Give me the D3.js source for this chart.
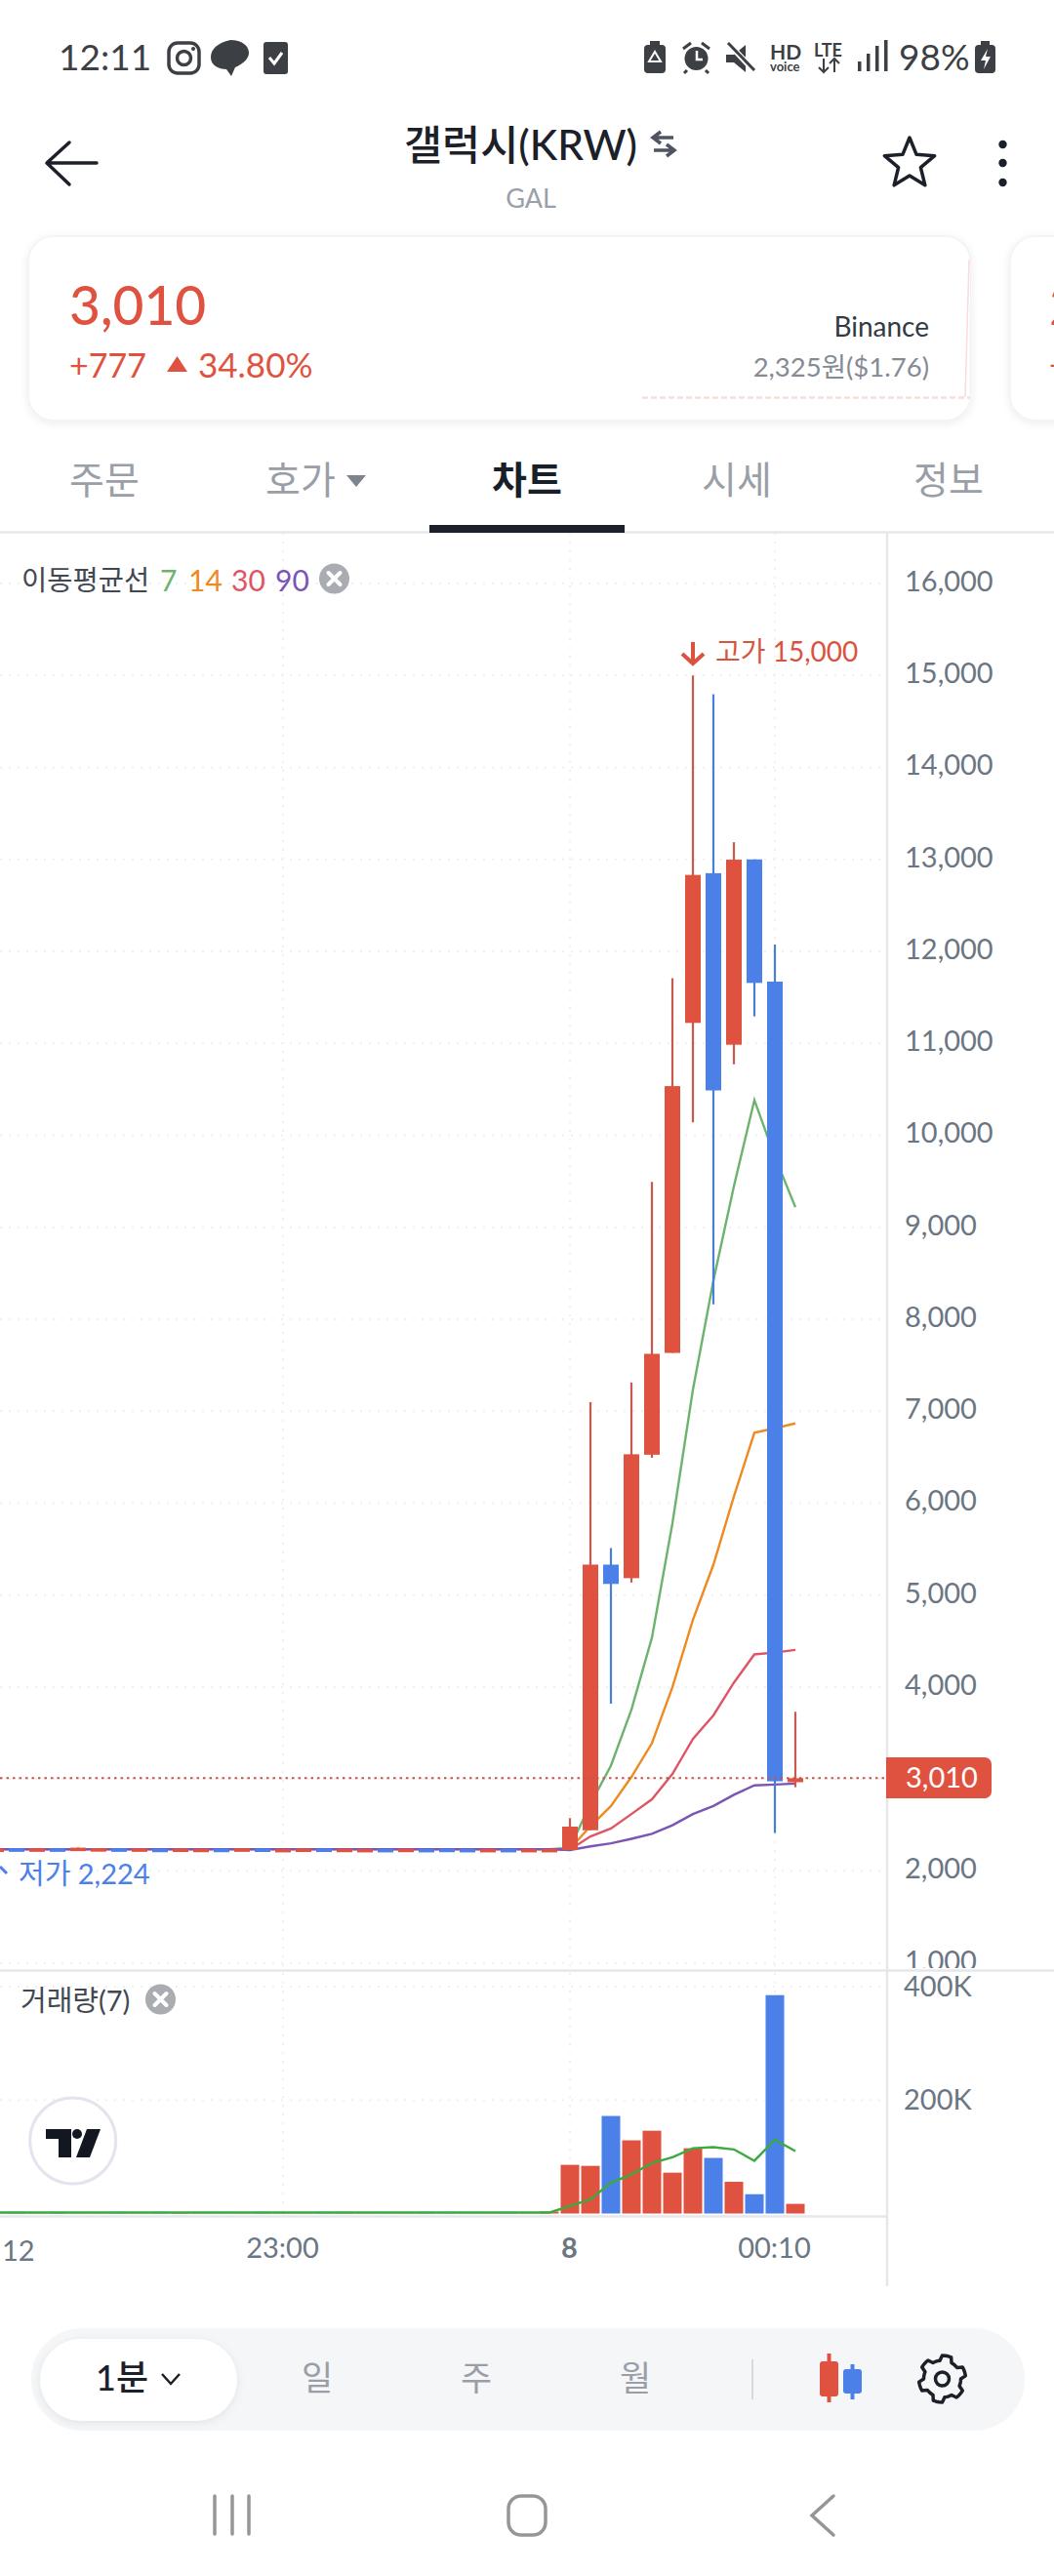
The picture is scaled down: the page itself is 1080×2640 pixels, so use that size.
<!DOCTYPE html>
<html>
<head>
<meta charset="utf-8">
<script src="https://cdn.jsdelivr.net/npm/d3@7"></script>
<style>
  html, body { margin: 0; padding: 0; background: #fff; }
  svg { display: block; }
  text { font-family: Lato, "Noto Sans CJK KR", sans-serif; }
</style>
</head>
<body>
<div id="chart"></div>
<script>
// Candles, oldest first. Index 0 is the bar on the "8" gridline, the flat part before it runs off the left edge.
const firstIndex = -28;
const opens = [2236, 2246, 2234, 2246, 2244, 2234, 2246, 2232, 2242, 2240, 2236, 2242, 2236, 2244, 2232, 2236, 2244, 2234, 2232, 2240, 2234, 2240, 2242, 2240, 2232, 2240, 2234, 2236,
  2229, 2444, 5332, 5185, 6527, 7634, 11222, 12850, 10985, 13000, 11671, 2966];
const closes = [2244, 2236, 2246, 2236, 2254, 2248, 2236, 2246, 2236, 2244, 2242, 2236, 2246, 2236, 2240, 2244, 2234, 2242, 2240, 2234, 2242, 2236, 2232, 2232, 2240, 2236, 2240, 2240,
  2483, 5332, 5122, 6532, 7624, 10535, 12831, 10488, 12997, 11657, 2976, 3010];
const highs = [2248, 2248, 2248, 2248, 2256, 2250, 2248, 2248, 2244, 2246, 2244, 2244, 2248, 2246, 2242, 2246, 2246, 2244, 2242, 2242, 2244, 2242, 2244, 2242, 2242, 2242, 2242, 2242,
  2576, 7098, 5512, 7312, 9493, 11709, 15000, 14796, 13187, 13000, 12074, 3732];
const lows = [2232, 2232, 2232, 2232, 2240, 2232, 2232, 2230, 2232, 2238, 2234, 2234, 2234, 2234, 2230, 2234, 2232, 2232, 2230, 2232, 2232, 2234, 2230, 2230, 2230, 2234, 2232, 2234,
  2229, 2444, 3820, 5137, 6493, 7634, 10142, 8161, 10772, 11293, 2415, 2912];
const volumes = [500, 600, 500, 700, 500, 400, 600, 500, 600, 2500, 500, 400, 500, 600, 500, 400, 500, 600, 500, 400, 500, 600, 500, 400, 500, 600, 500, 3500,
  85800, 84000, 172000, 129000, 146000, 72000, 115000, 98000, 56000, 34000, 385000, 17000];

// Moving averages from bar 0 onward, the part before bar 0 sits on one flat value.
const flatAverage = 2238;
const ma7 = [2254, 2730, 3146, 3756, 4537, 5780, 7234, 8420, 9446, 10383, 9765, 9219];
const ma14 = [2240, 2488, 2707, 3024, 3390, 4000, 4732, 5332, 6073, 6766, 6815, 6868];
const ma30 = [2234, 2376, 2463, 2620, 2780, 3056, 3437, 3693, 4049, 4356, 4376, 4405];
const ma90 = [2229, 2268, 2302, 2351, 2405, 2498, 2620, 2707, 2829, 2932, 2941, 2951];
const volumeMa = [13000, 25000, 54000, 69000, 89000, 99000, 115000, 117000, 113000, 93000, 130000, 110000];
const flatVolumeMa = 1700;

const priceTicks = [1000, 2000, 3000, 4000, 5000, 6000, 7000, 8000, 9000, 10000, 11000, 12000, 13000, 14000, 15000, 16000];
const volumeTicks = [200000, 400000];
const timeTicks = [{ i: -14, label: "23:00" }, { i: 0, label: "8" }, { i: 10, label: "00:10" }];
const lastPrice = 3010;
const highLabel = "고가 15,000";
const lowLabel = "저가 2,224";

const averages = [
  { name: "7", values: ma7, color: "#6DB36E" },
  { name: "14", values: ma14, color: "#EE8A22" },
  { name: "30", values: ma30, color: "#E05565" },
  { name: "90", values: ma90, color: "#7A55B5" },
];
const tabs = [
  { label: "주문", x: 107, color: "#9A9FA7", weight: 400 },
  { label: "호가", x: 308, color: "#9A9FA7", weight: 400 },
  { label: "차트", x: 540, color: "#191F28", weight: 700 },
  { label: "시세", x: 755, color: "#9A9FA7", weight: 400 },
  { label: "정보", x: 972, color: "#9A9FA7", weight: 400 },
];
const periods = [{ label: "일", x: 325 }, { label: "주", x: 488 }, { label: "월", x: 651 }];

const RED = "#E05240";
const BLUE = "#4A80E8";
const GREY = "#6B7683";
const INK = "#1C2129";

const width = 1080;
const height = 2640;
const axisX = 909;

const svg = d3.select("#chart").append("svg").attr("width", width).attr("height", height);
const defs = svg.append("defs");
defs.append("clipPath").attr("id", "priceClip").append("rect")
  .attr("x", 0).attr("y", 546).attr("width", width).attr("height", 1473);
defs.append("clipPath").attr("id", "volumeClip").append("rect")
  .attr("x", 0).attr("y", 2021).attr("width", axisX).attr("height", 250);
const soft = defs.append("filter").attr("id", "soft").attr("x", "-20%").attr("y", "-30%").attr("width", "140%").attr("height", "160%");
soft.append("feDropShadow").attr("dx", 0).attr("dy", 2).attr("stdDeviation", 4).attr("flood-color", "#000").attr("flood-opacity", 0.08);

function label(parent, str, x, y, size, color, anchor = "start", weight = 400) {
  return parent.append("text").attr("x", x).attr("y", y)
    .attr("dominant-baseline", "central").attr("text-anchor", anchor)
    .attr("font-size", size).attr("font-weight", weight).attr("fill", color).text(str);
}

// Scales
const x = d3.scaleLinear().domain([firstIndex, 11]).range([584 + firstIndex * 21, 815]);
const yPrice = d3.scaleLinear().domain([1000, 16000]).range([2011.8, 598]);
const yVolume = d3.scaleLinear().domain([0, 400000]).range([2268.5, 2036]);

const candles = opens.map((o, k) => ({
  i: firstIndex + k, open: o, close: closes[k], high: highs[k], low: lows[k], volume: volumes[k],
}));
const candleColor = d => d.close >= d.open ? RED : BLUE;

// Gridlines
const grid = svg.append("g").attr("stroke", "#EFF0F2").attr("stroke-width", 2).attr("stroke-dasharray", "2 7");
grid.append("g").attr("clip-path", "url(#priceClip)").selectAll("line").data(priceTicks).join("line")
  .attr("x1", 0).attr("x2", axisX).attr("y1", d => yPrice(d)).attr("y2", d => yPrice(d));
grid.append("g").selectAll("line").data(volumeTicks).join("line")
  .attr("x1", 0).attr("x2", axisX).attr("y1", d => yVolume(d)).attr("y2", d => yVolume(d));
grid.append("g").selectAll("line").data(timeTicks).join("line")
  .attr("x1", d => x(d.i)).attr("x2", d => x(d.i)).attr("y1", 546).attr("y2", 2270);

// Moving averages go under the candles.
const flatIndexes = d3.range(firstIndex, 0);
const priceLine = d3.line().x(d => x(d.i)).y(d => yPrice(d.v));
const chartArea = svg.append("g").attr("clip-path", "url(#priceClip)");
for (const ma of averages) {
  const points = flatIndexes.map(i => ({ i, v: flatAverage })).concat(ma.values.map((v, k) => ({ i: k, v })));
  chartArea.append("path").attr("fill", "none").attr("stroke", ma.color).attr("stroke-width", 2.4)
    .attr("d", priceLine(points));
}

// Wicks and bodies
chartArea.selectAll("line.wick").data(candles).join("line").attr("class", "wick")
  .attr("x1", d => x(d.i)).attr("x2", d => x(d.i))
  .attr("y1", d => yPrice(d.high)).attr("y2", d => yPrice(d.low))
  .attr("stroke", d => d.close >= d.open ? "#C9594C" : "#4A7DDC").attr("stroke-width", 2.2);
chartArea.selectAll("rect.body").data(candles).join("rect").attr("class", "body")
  .attr("x", d => x(d.i) - 8).attr("width", 16)
  .attr("y", d => yPrice(Math.max(d.open, d.close)))
  .attr("height", d => Math.max(3.5, Math.abs(yPrice(d.open) - yPrice(d.close))))
  .attr("fill", candleColor);

// Last price line runs over the candles.
chartArea.append("line").attr("x1", 0).attr("x2", axisX)
  .attr("y1", yPrice(lastPrice)).attr("y2", yPrice(lastPrice))
  .attr("stroke", "#C9544A").attr("stroke-width", 2).attr("stroke-dasharray", "2.5 4");

// High and low labels
const highMark = svg.append("g").attr("fill", "none").attr("stroke", "#D9533F").attr("stroke-width", 4);
highMark.append("path").attr("d", `M${x(6)},658 V680 M${x(6) - 11},670 L${x(6)},680 L${x(6) + 11},670`);
label(svg, highLabel, 733, 667, 28, "#D9533F");
svg.append("path").attr("d", "M0,1913 L7,1920").attr("fill", "none").attr("stroke", BLUE).attr("stroke-width", 3);
label(svg, lowLabel, 19, 1919, 29, BLUE);

// Volume pane
const volumePane = svg.append("g").attr("clip-path", "url(#volumeClip)");
volumePane.selectAll("rect").data(candles).join("rect")
  .attr("x", d => x(d.i) - 9.5).attr("width", 19)
  .attr("y", d => yVolume(d.volume))
  .attr("height", d => yVolume(0) - yVolume(d.volume))
  .attr("fill", candleColor);
const volumeLine = d3.line().x(d => x(d.i)).y(d => yVolume(d.v));
const volumePoints = flatIndexes.map(i => ({ i, v: flatVolumeMa })).concat(volumeMa.map((v, k) => ({ i: k, v })));
volumePane.append("path").attr("fill", "none").attr("stroke", "#3BAA3F").attr("stroke-width", 2.4)
  .attr("d", volumeLine(volumePoints));

// Pane borders
const borders = svg.append("g").attr("stroke", "#E6E7EA").attr("stroke-width", 2.5);
borders.append("line").attr("x1", 0).attr("x2", width).attr("y1", 545.5).attr("y2", 545.5);
borders.append("line").attr("x1", 0).attr("x2", width).attr("y1", 2019.5).attr("y2", 2019.5);
borders.append("line").attr("x1", 0).attr("x2", axisX).attr("y1", 2271.5).attr("y2", 2271.5);
borders.append("line").attr("x1", axisX).attr("x2", axisX).attr("y1", 545).attr("y2", 2343);

// Axes
const priceAxis = svg.append("g").attr("clip-path", "url(#priceClip)")
  .attr("transform", `translate(${axisX},-2)`)
  .call(d3.axisRight(yPrice).tickValues(priceTicks).tickFormat(d3.format(",")).tickSize(0).tickPadding(18));
const volumeAxis = svg.append("g")
  .attr("transform", `translate(${axisX},0)`)
  .call(d3.axisRight(yVolume).tickValues(volumeTicks).tickFormat(d => d / 1000 + "K").tickSize(0).tickPadding(17));
const timeAxis = svg.append("g")
  .attr("transform", "translate(-1,2272)")
  .call(d3.axisBottom(x)
    .tickValues(timeTicks.map(d => d.i))
    .tickFormat(d => timeTicks.find(t => t.i === d).label)
    .tickSize(0).tickPadding(21));
for (const axis of [priceAxis, volumeAxis, timeAxis]) {
  axis.attr("font-family", null).attr("font-size", 29);
  axis.select(".domain").remove();
  axis.selectAll("text").attr("fill", GREY);
}
timeAxis.selectAll("text").filter(d => d === 0).attr("font-weight", 700);
label(svg, "12", 2, 2305, 29, GREY);

// Last price tag
svg.append("path").attr("d", "M908,1801 H1009 a7,7 0 0 1 7,7 V1836 a7,7 0 0 1 -7,7 H908 Z").attr("fill", RED);
label(svg, d3.format(",")(lastPrice), 928, 1820, 29, "#fff");

// Legends
function closeButton(cx, cy) {
  svg.append("circle").attr("cx", cx).attr("cy", cy).attr("r", 15.5).attr("fill", "#A9ACB1");
  svg.append("path").attr("d", `M${cx - 6},${cy - 6} L${cx + 6},${cy + 6} M${cx + 6},${cy - 6} L${cx - 6},${cy + 6}`)
    .attr("stroke", "#fff").attr("stroke-width", 4).attr("stroke-linecap", "round");
}
label(svg, "이동평균선", 22, 594, 28.5, "#424852");
const legendX = [164, 193, 237, 282];
averages.forEach((ma, k) => label(svg, ma.name, legendX[k], 594, 30, ma.color));
closeButton(342.5, 593);
label(svg, "거래량(7)", 21, 2049, 29, "#424852");
closeButton(164.5, 2049);

// TradingView badge
svg.append("circle").attr("cx", 74.7).attr("cy", 2194).attr("r", 44).attr("fill", "#fff").attr("stroke", "#E2E5EE").attr("stroke-width", 3);
const tv = svg.append("g").attr("fill", "#131722");
tv.append("path").attr("d", "M47,2182 H73 V2211 H60 V2192 H47 Z");
tv.append("circle").attr("cx", 79).attr("cy", 2187).attr("r", 5);
tv.append("path").attr("d", "M89,2182 H103 L92,2211 H78 Z");

// Status bar
const statusColor = "#3C3F44";
label(svg, "12:11", 60, 57, 37, statusColor);
svg.append("rect").attr("x", 173).attr("y", 44).attr("width", 31).attr("height", 31).attr("rx", 9)
  .attr("fill", "none").attr("stroke", statusColor).attr("stroke-width", 3.5);
svg.append("circle").attr("cx", 188.5).attr("cy", 59.5).attr("r", 7)
  .attr("fill", "none").attr("stroke", statusColor).attr("stroke-width", 3.5);
svg.append("circle").attr("cx", 198).attr("cy", 50).attr("r", 2).attr("fill", statusColor);
svg.append("path").attr("d", "M236,41 C223,44 216,50 216,59 C216,67 224,71 232,71 L237,78 L241,69 C250,65 255,60 255,54 C255,47 248,41 236,41 Z").attr("fill", statusColor);
svg.append("rect").attr("x", 270).attr("y", 43).attr("width", 25).attr("height", 33).attr("rx", 3).attr("fill", statusColor);
svg.append("path").attr("d", "M276,59 L281,65 L289,54").attr("fill", "none").attr("stroke", "#fff").attr("stroke-width", 3);

// Right side of the status bar
svg.append("rect").attr("x", 660).attr("y", 46).attr("width", 22).attr("height", 29).attr("rx", 4).attr("fill", statusColor);
svg.append("rect").attr("x", 666).attr("y", 42).attr("width", 10).attr("height", 5).attr("fill", statusColor);
svg.append("path").attr("d", "M671,53 L677,63 H665 Z").attr("fill", "none").attr("stroke", "#fff").attr("stroke-width", 2);
svg.append("circle").attr("cx", 713.5).attr("cy", 60).attr("r", 12).attr("fill", statusColor);
svg.append("path").attr("d", "M714,52 V61 H720").attr("fill", "none").attr("stroke", "#fff").attr("stroke-width", 2.5);
svg.append("path").attr("d", "M700,50 L708,44 M727,50 L719,44 M704,72 L701,75 M723,72 L726,75").attr("stroke", statusColor).attr("stroke-width", 3);
svg.append("path").attr("d", "M744,56 H752 L764,46 V74 L752,64 H744 Z").attr("fill", statusColor);
svg.append("path").attr("d", "M746,44 L773,73").attr("stroke", "#fff").attr("stroke-width", 6);
svg.append("path").attr("d", "M746,44 L773,72").attr("stroke", statusColor).attr("stroke-width", 3);
label(svg, "HD", 789, 52, 21, statusColor, "start", 700);
label(svg, "voice", 789, 68, 13, statusColor, "start", 700);
label(svg, "LTE", 834, 51, 18, statusColor, "start", 700);
svg.append("path").attr("d", "M844,60 V74 M839,69 L844,74 L849,69 M855,74 V60 M850,65 L855,60 L860,65").attr("fill", "none").attr("stroke", statusColor).attr("stroke-width", 2);
svg.selectAll("rect.signal").data([10, 18, 26, 32]).join("rect").attr("class", "signal")
  .attr("x", (d, k) => 879 + k * 9).attr("y", d => 73 - d).attr("width", 3.5).attr("height", d => d).attr("fill", statusColor);
label(svg, "98%", 921, 57, 37, statusColor);
svg.append("rect").attr("x", 999).attr("y", 46).attr("width", 21).attr("height", 29).attr("rx", 4).attr("fill", statusColor);
svg.append("rect").attr("x", 1005).attr("y", 42).attr("width", 9).attr("height", 5).attr("fill", statusColor);
svg.append("path").attr("d", "M1012,50 L1005,62 H1010 L1008,71 L1015,58 H1010 Z").attr("fill", "#fff");

// Title row
svg.append("path").attr("d", "M99,167 H49 M71,146 L48,167 L71,189").attr("fill", "none").attr("stroke", INK)
  .attr("stroke-width", 3.5).attr("stroke-linecap", "round").attr("stroke-linejoin", "round");
label(svg, "갤럭시(KRW)", 414, 147, 42.5, INK, "start", 500);
svg.append("path").attr("d", "M690,141 H670 M677,135 L669,141 L677,147 M670,154 H690 M683,148 L691,154 L683,160")
  .attr("fill", "none").attr("stroke", "#4E5560").attr("stroke-width", 3.5);
label(svg, "GAL", 544, 202, 27, "#9AA0A8", "middle");
const starPoints = d3.range(10).map(k => [k * Math.PI / 5, k % 2 ? 12 : 27]);
svg.append("path").attr("transform", "translate(932,168)")
  .attr("d", d3.lineRadial().curve(d3.curveLinearClosed)(starPoints))
  .attr("fill", "none").attr("stroke", INK).attr("stroke-width", 3.5).attr("stroke-linejoin", "round");
svg.selectAll("circle.menu").data([148, 167, 187]).join("circle").attr("class", "menu")
  .attr("cx", 1027.5).attr("cy", d => d).attr("r", 4.2).attr("fill", INK);

// Price cards
svg.append("rect").attr("x", 29).attr("y", 242).attr("width", 965.5).attr("height", 189).attr("rx", 26)
  .attr("fill", "#fff").attr("stroke", "#F1F2F4").attr("stroke-width", 1.5).attr("filter", "url(#soft)");
svg.append("rect").attr("x", 1035).attr("y", 242).attr("width", 80).attr("height", 189).attr("rx", 26)
  .attr("fill", "#fff").attr("stroke", "#F1F2F4").attr("stroke-width", 1.5).attr("filter", "url(#soft)");
label(svg, "3,010", 71, 312, 55, RED, "start", 500);
label(svg, "+777", 71, 373, 34, RED);
svg.append("path").attr("d", "M171,381 L181.5,365 L192,381 Z").attr("fill", RED);
label(svg, "34.80%", 203, 373, 35, RED);
label(svg, "Binance", 952, 334, 28, "#333A44", "end");
label(svg, "2,325원($1.76)", 952, 375, 27.5, "#858B94", "end");
svg.append("path").attr("d", "M658,407.5 H994").attr("stroke", "#F9DCDC").attr("stroke-width", 2.5).attr("stroke-dasharray", "6 3");
svg.append("path").attr("d", "M989,407 L993,266").attr("stroke", "#F9DCDC").attr("stroke-width", 1.5).attr("fill", "none");
label(svg, "2", 1075, 312, 55, RED, "start", 500);
label(svg, "+", 1075, 373, 33, RED);

// Tabs
svg.selectAll("text.tab").data(tabs).join("text").attr("class", "tab")
  .attr("x", d => d.x).attr("y", 491).attr("text-anchor", "middle").attr("dominant-baseline", "central")
  .attr("font-size", 39).attr("font-weight", d => d.weight).attr("fill", d => d.color).text(d => d.label);
svg.append("path").attr("d", "M355,487 H375 L365,499 Z").attr("fill", "#7D848D");
svg.append("rect").attr("x", 440).attr("y", 538).attr("width", 200).attr("height", 8).attr("fill", INK);

// Bottom toolbar
svg.append("rect").attr("x", 32).attr("y", 2386).attr("width", 1018).attr("height", 105).attr("rx", 52).attr("fill", "#F5F6F8");
svg.append("rect").attr("x", 41).attr("y", 2397).attr("width", 202).attr("height", 84).attr("rx", 42).attr("fill", "#fff").attr("filter", "url(#soft)");
label(svg, "1분", 98, 2436, 36, INK, "start", 500);
svg.append("path").attr("d", "M166,2433 L175,2443 L184,2433").attr("fill", "none").attr("stroke", INK).attr("stroke-width", 2.5);
svg.selectAll("text.period").data(periods).join("text").attr("class", "period")
  .attr("x", d => d.x).attr("y", 2436).attr("text-anchor", "middle").attr("dominant-baseline", "central")
  .attr("font-size", 35).attr("fill", "#9A9FA7").text(d => d.label);
svg.append("line").attr("x1", 771).attr("x2", 771).attr("y1", 2418).attr("y2", 2459).attr("stroke", "#CDD0D5").attr("stroke-width", 1.5);
svg.append("rect").attr("x", 840).attr("y", 2420).attr("width", 19).attr("height", 36).attr("rx", 3).attr("fill", RED);
svg.append("line").attr("x1", 849.5).attr("x2", 849.5).attr("y1", 2412).attr("y2", 2462).attr("stroke", RED).attr("stroke-width", 4);
svg.append("rect").attr("x", 864).attr("y", 2428).attr("width", 19).attr("height", 25).attr("rx", 3).attr("fill", BLUE);
svg.append("line").attr("x1", 873.5).attr("x2", 873.5).attr("y1", 2423).attr("y2", 2459).attr("stroke", BLUE).attr("stroke-width", 4);
const gearPoints = d3.range(48).map(k => [k * Math.PI / 24, (k % 8) < 4 ? 24 : 19]);
svg.append("path").attr("transform", "translate(965.5,2438)")
  .attr("d", d3.lineRadial().curve(d3.curveLinearClosed)(gearPoints))
  .attr("fill", "none").attr("stroke", INK).attr("stroke-width", 3.5).attr("stroke-linejoin", "round");
svg.append("circle").attr("cx", 965.5).attr("cy", 2438).attr("r", 7).attr("fill", "none").attr("stroke", INK).attr("stroke-width", 3.5);

// Navigation bar
const nav = svg.append("g").attr("fill", "none").attr("stroke", "#969696").attr("stroke-width", 3.5).attr("stroke-linecap", "round");
nav.append("path").attr("d", "M220,2558 V2597 M238,2558 V2597 M255,2558 V2597");
nav.append("rect").attr("x", 521).attr("y", 2558).attr("width", 38).attr("height", 40).attr("rx", 13);
nav.append("path").attr("d", "M854,2558 L832,2578 L854,2598");
</script>
</body>
</html>
